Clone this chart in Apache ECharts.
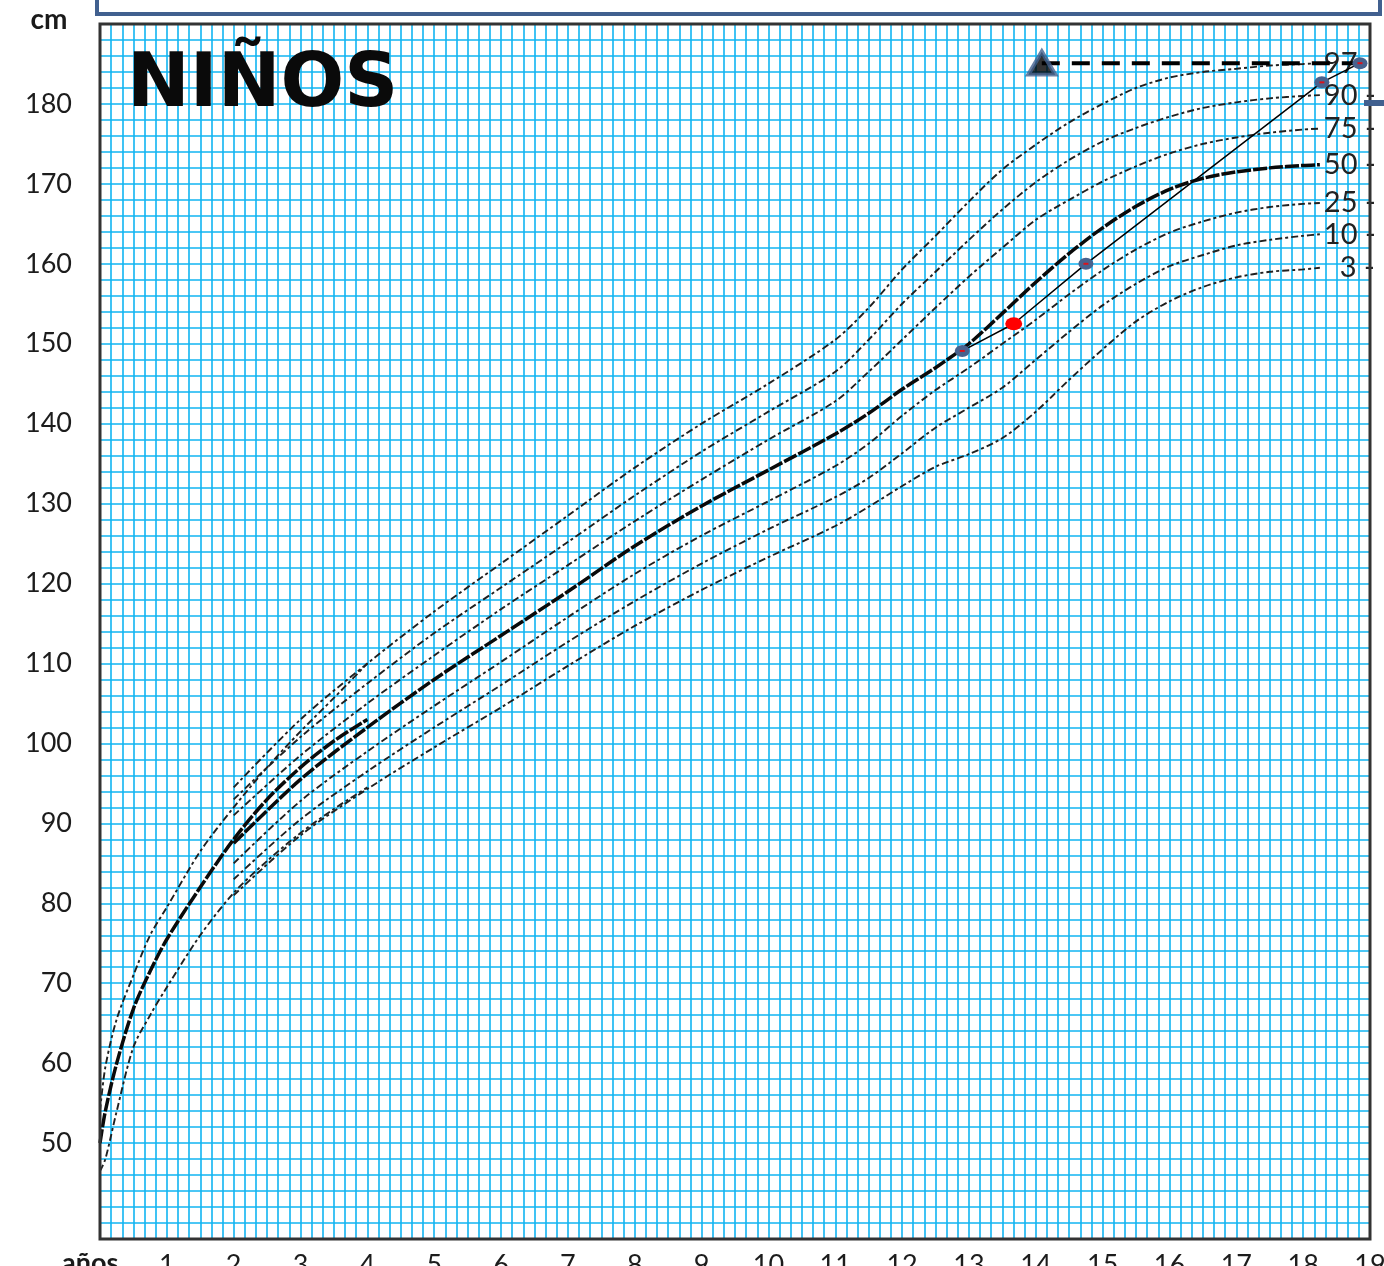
<!DOCTYPE html>
<html>
<head>
<meta charset="utf-8">
<script src="https://cdn.jsdelivr.net/npm/echarts@6/dist/echarts.min.js"></script>
<style>
  html, body { margin: 0; padding: 0; background: #fff; }
  #chart { width: 1384px; height: 1266px; }
</style>
</head>
<body>
<div id="chart"></div>
<script>
// edades (años) de la curva 0-4 y de la curva 2-18
const agesEarly = [0, 0.08, 0.25, 0.5, 0.75, 1, 1.5, 2, 2.5, 3, 3.5, 4]
const p97Early = [54, 59.5, 65.5, 71, 76, 79.5, 86.5, 92, 97, 101.5, 105.7, 110]
const p50Early = [50, 54, 60, 66.8, 71.5, 75.5, 82, 88, 93, 97, 100.3, 103]
const p3Early = [46.5, 48, 54, 62, 66, 69.5, 76, 81.3, 85.3, 88.8, 91.8, 94.5]

const ages = [2, 3, 4, 5, 6, 7, 8, 9, 10, 11, 11.5, 12, 12.5, 13, 13.5, 14, 14.5, 15, 15.5, 16, 16.5, 17, 17.5, 18, 18.25]
const p97 = [94.5, 103, 110, 116.5, 122.5, 128.5, 134.5, 140, 145, 150.5, 154.5, 159.3, 163.5, 167.8, 171.8, 174.9, 177.7, 180, 182, 183.3, 184, 184.4, 184.8, 185, 185.1]
const p90 = [93, 100.8, 107.5, 113.8, 119.5, 125.2, 131, 136.5, 141.5, 146.5, 150.5, 155, 159, 163, 166.8, 170.2, 173, 175.3, 177, 178.4, 179.5, 180.2, 180.7, 181, 181.1]
const p75 = [91, 98.5, 105, 111, 116.8, 122.3, 127.8, 133, 138, 142.8, 146.5, 150.5, 154.5, 158.4, 162, 165.5, 168, 170.3, 172.2, 173.8, 175, 175.8, 176.4, 176.8, 176.9]
const p50 = [87.5, 95.5, 102, 108, 113.5, 119, 124.7, 129.7, 134.2, 138.7, 141.3, 144.3, 147, 150, 153.8, 157.7, 161.3, 164.5, 167.2, 169.3, 170.7, 171.5, 172, 172.3, 172.4]
const p25 = [85, 92.8, 99, 104.7, 110.2, 115.8, 121.2, 126, 130.3, 134.7, 137.5, 141, 144.2, 147, 150, 153, 156.2, 159.2, 161.8, 163.9, 165.3, 166.4, 167.1, 167.5, 167.6]
const p10 = [83, 90.5, 96.5, 102, 107.3, 112.7, 117.8, 122.5, 126.8, 130.8, 133.2, 136.3, 139.5, 142, 144.5, 148, 151.5, 154.8, 157.5, 159.7, 161.1, 162.3, 163, 163.5, 163.7]
const p3 = [81, 88.5, 94.3, 99.5, 104.5, 109.7, 114.7, 119.2, 123.3, 127.2, 129.6, 132.2, 134.6, 136.2, 138.2, 141.5, 145.5, 149.3, 152.8, 155.3, 157.1, 158.3, 159, 159.3, 159.5]

// mediciones del paciente
const patientAges = [12.9, 13.67, 14.75, 18.28, 18.85]
const patientHeights = [149.1, 152.5, 160.0, 182.7, 185.1]
const highlightIndex = 1
// talla diana
const targetAge = 14.09
const targetHeight = 185.1

const yTickLabels = [50, 60, 70, 80, 90, 100, 110, 120, 130, 140, 150, 160, 170, 180]

const GRID_BLUE = '#10b4f2'
const FRAME = { left: 100, top: 24, width: 1270, height: 1215 }

const chart = echarts.init(document.getElementById('chart'))

const pairs = (xs, ys) => xs.map((x, i) => [x, ys[i]])

const dashed = { color: '#202020', width: 1.9, type: [7, 3, 3, 3] }
const thick = { color: '#0a0a0a', width: 3.5, type: [14, 2] }

const curve = (name, xs, ys, style, label) => ({
  name,
  type: 'line',
  data: pairs(xs, ys),
  smooth: 0.3,
  showSymbol: false,
  silent: true,
  lineStyle: style,
  z: 3,
  endLabel: label
    ? {
        show: true,
        formatter: label.text,
        distance: label.distance || 4,
        color: '#222',
        fontFamily: 'Lato',
        fontSize: 29,
      }
    : { show: false },
})

chart.setOption({
  backgroundColor: '#fff',
  animation: false,
  grid: {
    left: FRAME.left,
    top: FRAME.top,
    width: FRAME.width,
    height: FRAME.height,
    containLabel: false,
    outerBoundsMode: 'none',
  },
  xAxis: {
    type: 'value',
    min: 0,
    max: 19,
    interval: 1,
    axisLine: { show: false },
    axisTick: { show: false },
    axisLabel: {
      formatter: v => (v >= 1 ? String(v) : ''),
      fontFamily: 'Lato',
      fontSize: 27,
      color: '#1c1c1c',
      margin: 13,
    },
    splitLine: { show: true, lineStyle: { color: GRID_BLUE, width: 1.6 } },
    minorTick: { show: false, splitNumber: 6 },
    minorSplitLine: { show: true, lineStyle: { color: GRID_BLUE, width: 1.6 } },
  },
  yAxis: {
    type: 'value',
    min: 38,
    max: 190,
    interval: 2,
    axisLine: { show: false },
    axisTick: { show: false },
    axisLabel: {
      formatter: v => (yTickLabels.includes(v) ? String(v) : ''),
      fontFamily: 'Lato',
      fontSize: 27,
      color: '#1c1c1c',
      margin: 28,
    },
    splitLine: { show: true, lineStyle: { color: GRID_BLUE, width: 1.6 } },
  },
  series: [
    curve('97e', agesEarly, p97Early, dashed),
    curve('50e', agesEarly, p50Early, thick),
    curve('3e', agesEarly, p3Early, dashed),
    curve('97', ages, p97, dashed, { text: '97' }),
    curve('90', ages, p90, dashed, { text: '90 -' }),
    curve('75', ages, p75, dashed, { text: '75 -' }),
    curve('50', ages, p50, thick, { text: '50 -' }),
    curve('25', ages, p25, dashed, { text: '25 -' }),
    curve('10', ages, p10, dashed, { text: '10 -' }),
    curve('3', ages, p3, dashed, { text: '3 -', distance: 20 }),
    {
      name: 'diana',
      type: 'line',
      data: [[targetAge, targetHeight], [patientAges[patientAges.length - 1], targetHeight]],
      showSymbol: false,
      silent: true,
      lineStyle: { color: '#000', width: 4, type: [18, 12] },
      z: 5,
    },
    {
      name: 'triangulo',
      type: 'scatter',
      data: [[targetAge, targetHeight]],
      symbol: 'triangle',
      symbolSize: [27, 23],
      itemStyle: { color: '#000', borderColor: '#44618e', borderWidth: 4 },
      z: 6,
    },
    {
      name: 'paciente',
      type: 'line',
      data: patientAges.map((a, i) => i === highlightIndex
        ? { value: [a, patientHeights[i]], symbolSize: [17, 13], itemStyle: { color: '#ff0000' } }
        : [a, patientHeights[i]]),
      symbol: 'circle',
      symbolSize: [15, 12],
      showAllSymbol: true,
      itemStyle: { color: '#48628e' },
      lineStyle: { color: '#000', width: 1.5 },
      z: 7,
    },
    {
      name: 'centro',
      type: 'scatter',
      data: pairs(patientAges, patientHeights).filter((d, i) => i !== highlightIndex),
      symbol: 'rect',
      symbolSize: [5, 2],
      itemStyle: { color: '#ff0000' },
      z: 8,
    },
  ],
  graphic: [
    {
      type: 'rect',
      z: 100,
      shape: { x: FRAME.left, y: FRAME.top, width: FRAME.width, height: FRAME.height },
      style: { fill: 'none', stroke: '#333', lineWidth: 3 },
    },
    {
      type: 'rect',
      z: 100,
      shape: { x: 97, y: -20, width: 1283, height: 34 },
      style: { fill: '#fff', stroke: '#41608f', lineWidth: 4 },
    },
    {
      type: 'rect',
      z: 100,
      shape: { x: 1364, y: 100, width: 20, height: 6 },
      style: { fill: '#41608f' },
    },
    {
      type: 'text',
      z: 100,
      style: {
        text: 'NIÑOS', x: 127, y: 87, verticalAlign: 'middle',
        font: 'bold 75px "DejaVu Sans"', fill: '#0a0a0a',
      },
    },
    {
      type: 'text',
      z: 100,
      style: {
        text: 'cm', x: 49, y: 20, align: 'center', verticalAlign: 'middle',
        font: 'bold 28px Lato', fill: '#1a1a1a',
      },
    },
    {
      type: 'text',
      z: 100,
      style: {
        text: 'años', x: 62, y: 1250, verticalAlign: 'top',
        font: 'bold 27px Lato', fill: '#1a1a1a',
      },
    },
  ],
})
</script>
</body>
</html>
